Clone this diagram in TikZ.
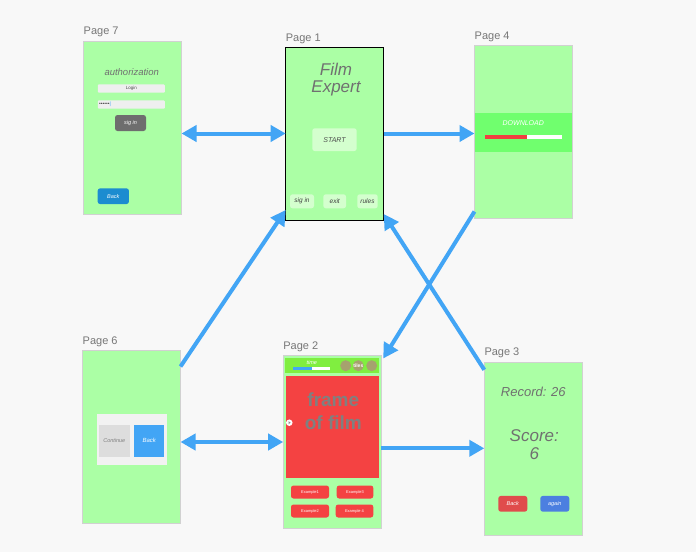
\documentclass[tikz,border=0pt]{standalone}
\usepackage{fontspec}
\setmainfont{Liberation Sans}
\usetikzlibrary{arrows.meta}
\definecolor{bgc}{HTML}{F8F8F8}
\definecolor{scrgreen}{HTML}{ABFFA5}
\definecolor{lblgray}{HTML}{777777}
\definecolor{comicgray}{HTML}{707070}
\definecolor{flowblue}{HTML}{42A5F5}
\definecolor{lightbtn}{HTML}{D4FFCE}
\definecolor{fieldgray}{HTML}{EFEFEF}
\definecolor{signgray}{HTML}{6E6E6E}
\definecolor{backblue}{HTML}{1C8CD0}
\definecolor{bandgreen}{HTML}{70FF6E}
\definecolor{barred}{HTML}{F04040}
\definecolor{dialoggray}{HTML}{F2F2F2}
\definecolor{contgray}{HTML}{DDDDDD}
\definecolor{limegreen}{HTML}{80EE40}
\definecolor{framered}{HTML}{F44242}
\definecolor{olive}{HTML}{A6A26E}
\definecolor{backred}{HTML}{E04C4C}
\definecolor{againblue}{HTML}{4C7FE0}
\tikzset{
  screen/.style={draw=black!18, fill=scrgreen, minimum width=98pt, minimum height=173pt, inner sep=0pt, outer sep=0pt},
  pagelbl/.style={text=lblgray, font=\fontsize{11}{13}\selectfont, anchor=base west, inner sep=0pt},
  tip/.tip={Triangle[length=15pt,width=16pt]},
  flow/.style={draw=flowblue, line width=4pt, -tip},
  btn/.style={rounded corners=2.5pt, inner sep=0pt, outer sep=0pt},
  comic/.style={text=comicgray, font=\itshape, inner sep=0pt}
}
\begin{document}
\begin{tikzpicture}[x=1pt, y=-1pt]
  \fill[bgc] (0,0) rectangle (696,552);
  \useasboundingbox (0,0) rectangle (696,552);
  % page 7
  \node[screen] (p7) at (132.5,127.9) {};
  \node[pagelbl] (l7) at ([yshift=6.5pt]p7.north west) {Page 7};
  \node[comic, font=\itshape\fontsize{9.5}{11}\selectfont] (p7title) at (131.7,71.7) {authorization};
  \node[btn, rounded corners=1pt, fill=fieldgray, minimum width=67pt, minimum height=8.4pt, font=\fontsize{4.5}{5}\selectfont, text=black!70] (p7login) at (131.3,88.5) {Login};
  \node[btn, rounded corners=1pt, fill=fieldgray, minimum width=67pt, minimum height=8.4pt] (p7pass) at (131.3,104.5) {};
  \node[anchor=west, inner sep=0pt, font=\fontsize{5}{6}\selectfont, text=black!75] (p7dots) at ([xshift=1pt]p7pass.west) {••••••\textcolor{flowblue}{|}};
  \node[btn, fill=signgray, minimum width=31pt, minimum height=16pt, text=white, font=\itshape\fontsize{5.5}{6}\selectfont] (p7sign) at (130.5,123) {sig in};
  \node[btn, fill=backblue, minimum width=31.3pt, minimum height=15.7pt, text=white, font=\itshape\fontsize{5.5}{6}\selectfont] (p7back) at (113.3,196.2) {Back};
  % page 1
  \node[screen, draw=black, line width=1pt] (p1) at (334.7,133.5) {};
  \node[pagelbl] (l1) at ([yshift=5.5pt]p1.north west) {Page 1};
  \node[comic, align=center, font=\itshape\fontsize{17}{17.5}\selectfont] (p1title) at (336,79.7) {Film\\Expert};
  \node[btn, fill=lightbtn, minimum width=44.4pt, minimum height=22.7pt, font=\itshape\fontsize{7}{8}\selectfont, text=black!70] (p1start) at (334.5,139.7) {START};
  \foreach \x/\w/\t [count=\i] in {302/24/sig in, 334.7/22.7/exit, 367.5/20.4/rules}{
    \node[btn, fill=lightbtn, minimum width=\w pt, minimum height=14pt, font=\itshape\fontsize{6.5}{7}\selectfont, text=black!75] (p1btn\i) at (\x,201.3) {\t};
  }
  % page 4
  \node[screen] (p4) at (523.5,132) {};
  \node[pagelbl] (l4) at ([yshift=6.5pt]p4.north west) {Page 4};
  \node[fill=bandgreen, minimum width=97.6pt, minimum height=39pt, inner sep=0pt] (p4band) at (523.5,132.8) {};
  \node[inner sep=0pt, text=white, font=\itshape\fontsize{7}{8}\selectfont] (p4text) at (523.3,122.7) {DOWNLOAD};
  \fill[white] (485,135.3) rectangle (562,139);
  \fill[barred] (485,135.3) rectangle (527,139);
  % page 6
  \node[screen] (p6) at (131.5,437) {};
  \node[pagelbl] (l6) at ([yshift=6.5pt]p6.north west) {Page 6};
  \node[fill=dialoggray, minimum width=70.3pt, minimum height=51pt, inner sep=0pt] (p6dialog) at (131.8,439.5) {};
  \node[fill=contgray, minimum width=30.7pt, minimum height=31.7pt, inner sep=0pt, text=black!50, font=\itshape\fontsize{5.5}{6}\selectfont] (p6cont) at (114.3,440.8) {Continue};
  \node[fill=flowblue, minimum width=30.3pt, minimum height=31.7pt, inner sep=0pt, text=white, font=\itshape\fontsize{6}{7}\selectfont] (p6back) at (149.2,440.8) {Back};
  % page 2
  \node[screen] (p2) at (332.2,442) {};
  \node[pagelbl] (l2) at ([yshift=6.5pt]p2.north west) {Page 2};
  \node[fill=limegreen, minimum width=94.3pt, minimum height=15.6pt, inner sep=0pt] (p2bar) at (332.2,365.5) {};
  \node[inner sep=0pt, text=white, font=\itshape\fontsize{5.5}{6}\selectfont] (p2time) at (311.7,363) {time};
  \fill[white] (292.7,367) rectangle (330,370.3);
  \fill[flowblue] (292.7,367) rectangle (311.7,370.3);
  \foreach \x/\t [count=\i] in {345.7/, 358.3/tiles, 371.7/}{
    \node[circle, fill=olive, minimum size=11pt, inner sep=0pt, text=white, font=\bfseries\fontsize{5}{6}\selectfont] (p2dot\i) at (\x,365.7) {\t};
  }
  \node[fill=framered, minimum width=93.6pt, minimum height=102pt, inner sep=0pt] (p2frame) at (332.5,426.7) {};
  \node[align=center, inner sep=0pt, text=black!50, font=\bfseries\fontsize{19}{23.3}\selectfont] (p2caption) at (333.3,411.5) {frame\\of film};
  \node[circle, fill=white, minimum size=6.5pt, inner sep=0pt] (p2nav) at (289.3,422.7) {};
  \fill[black!45] (288.5,421.2) -- (290.6,422.7) -- (288.5,424.2) -- cycle;
  \foreach \x/\y/\w/\t [count=\i] in {310/492/38/Example1, 355/492/36.6/Example3, 310/511/38/Example2, 354.5/511/37.6/Example 4}{
    \node[btn, fill=framered, minimum width=\w pt, minimum height=13pt, text=white, font=\fontsize{4}{5}\selectfont] (p2ex\i) at (\x,\y) {\t};
  }
  % page 3
  \node[screen] (p3) at (533.3,448.3) {};
  \node[pagelbl] (l3) at ([yshift=6.5pt]p3.north west) {Page 3};
  \node[comic, font=\itshape\fontsize{13}{14}\selectfont] (p3record) at (533.3,392.3) {Record: 26};
  \node[comic, align=center, font=\itshape\fontsize{17}{18}\selectfont] (p3score) at (534.3,445) {Score:\\6};
  \node[btn, fill=backred, minimum width=29pt, minimum height=15.7pt, text=white, font=\itshape\fontsize{5.5}{6}\selectfont] (p3back) at (512.8,503.8) {Back};
  \node[btn, fill=againblue, minimum width=29pt, minimum height=15.7pt, text=white, font=\itshape\fontsize{5.5}{6}\selectfont] (p3again) at (554.8,503.8) {again};
  % transitions
  \draw[flow, tip-tip] (p7.east |- p1.west) -- (p1.west);
  \draw[flow] (p1.east) -- (p4.west |- p1.east);
  \draw[flow, tip-tip] (p6.east |- p2.west) -- (p2.west);
  \draw[flow] (p2.east |- p3.west) -- (p3.west);
  \draw[flow] ([yshift=-16pt]p6.north east) -- ([yshift=10pt]p1.south west);
  \draw[flow] ([yshift=-8pt]p3.north west) -- ([yshift=6pt]p1.south east);
  \draw[flow] ([yshift=7pt]p4.south west) -- ([xshift=2pt,yshift=-3pt]p2.north east);
\end{tikzpicture}
\end{document}
